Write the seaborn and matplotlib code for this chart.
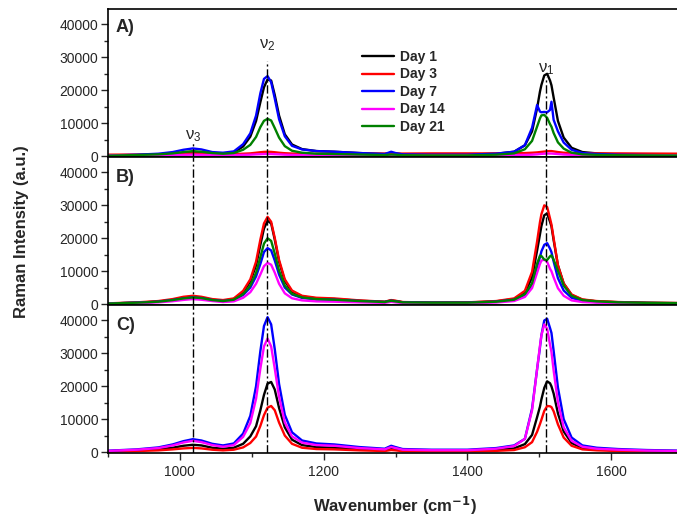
import pandas as pd
import matplotlib
matplotlib.use('Agg')
import matplotlib.pyplot as plt
from matplotlib.ticker import MultipleLocator
import seaborn as sns

# Datos (numero de onda e intensidades)
wn = [900, 940, 970, 990, 1005, 1018, 1030, 1045, 1060, 1075,
      1088, 1098, 1106, 1112, 1117, 1122, 1127, 1132, 1138, 1146,
      1156, 1170, 1190, 1215, 1250, 1285, 1294, 1300, 1310, 1350,
      1400, 1440, 1465, 1480, 1490, 1497, 1501, 1503, 1507, 1511,
      1515, 1517, 1520, 1526, 1534, 1545, 1560, 1580, 1610, 1650,
      1700]

days = ['Day 1', 'Day 3', 'Day 7', 'Day 14', 'Day 21']
colores = ['#000000', '#ff0000', '#0000ff', '#ff00ff', '#008000']

# Panel A
a_day1 = [100, 250, 400, 650, 900, 1000, 950, 800, 700, 1100,
          2900, 5900, 10650, 16400, 20900, 23300, 22950, 18550, 12300, 6600,
          3500, 2100, 1500, 1300, 900, 600, 900, 750, 500, 400,
          400, 700, 1300, 3250, 7500, 14550, 19600, 21600, 24500, 25000,
          22950, 21500, 17800, 10650, 5600, 2500, 1200, 800, 500, 350,
          250]
a_day3 = [400, 450, 500, 600, 700, 800, 700, 600, 500, 550,
          700, 800, 1000, 1150, 1250, 1300, 1250, 1150, 1000, 850,
          750, 700, 650, 650, 700, 750, 800, 750, 750, 800,
          800, 800, 850, 900, 1000, 1100, 1200, 1250, 1350, 1450,
          1500, 1500, 1400, 1200, 1000, 900, 850, 800, 800, 750,
          700]
a_day7 = [150, 400, 700, 1200, 1900, 2300, 2000, 1200, 1000, 1400,
          3600, 6900, 12300, 19100, 23450, 24300, 22450, 17500, 11200, 6000,
          3100, 2000, 1500, 1300, 900, 600, 1300, 900, 500, 400,
          400, 700, 1300, 3300, 8600, 15500, 13500, 13300, 13400, 13300,
          14000, 16500, 11000, 7500, 4100, 1900, 900, 600, 400, 300,
          200]
a_day14 = [200, 200, 250, 300, 350, 400, 350, 300, 250, 300,
           350, 400, 500, 550, 600, 620, 600, 550, 500, 400,
           350, 300, 300, 250, 250, 250, 300, 300, 250, 250,
           250, 250, 300, 350, 400, 500, 600, 650, 700, 750,
           750, 750, 700, 600, 450, 350, 300, 250, 250, 250,
           250]
a_day21 = [100, 300, 500, 800, 1200, 1500, 1300, 900, 700, 900,
           1900, 3400, 5800, 8800, 10700, 11300, 10800, 8500, 5600, 3000,
           1600, 1000, 700, 600, 450, 300, 450, 400, 250, 200,
           200, 400, 800, 2050, 4600, 8950, 11450, 12350, 12500, 11600,
           9700, 8900, 7000, 4150, 2250, 1000, 500, 350, 250, 200,
           150]

# Panel B
b_day1 = [150, 400, 750, 1250, 1800, 2100, 1900, 1300, 1000, 1500,
          3600, 6900, 11750, 18000, 22950, 25300, 24500, 19600, 12900, 7000,
          3750, 2300, 1700, 1500, 1000, 650, 1100, 900, 550, 400,
          450, 800, 1500, 3600, 8050, 16250, 21200, 23700, 27000, 27500,
          25000, 23600, 19450, 11750, 6250, 2750, 1300, 800, 550, 350,
          250]
b_day3 = [200, 500, 900, 1500, 2200, 2500, 2200, 1500, 1200, 1700,
          4000, 7500, 12900, 19600, 24500, 26500, 25000, 20100, 13400, 7500,
          4100, 2500, 1900, 1700, 1100, 700, 1200, 1000, 600, 450,
          500, 900, 1700, 4000, 9800, 19000, 24900, 27300, 30000, 29500,
          26000, 24150, 20000, 11750, 6250, 2900, 1400, 900, 600, 400,
          300]
b_day7 = [150, 400, 700, 1200, 1700, 2000, 1800, 1200, 900, 1200,
          2750, 5000, 8400, 12200, 15800, 17000, 16300, 13250, 8950, 5000,
          2900, 1850, 1400, 1300, 900, 600, 1000, 800, 500, 400,
          400, 700, 1300, 2750, 5750, 11200, 14300, 16000, 18000, 18500,
          16800, 15750, 12950, 7850, 4100, 1900, 900, 600, 400, 300,
          200]
b_day14 = [100, 300, 500, 850, 1250, 1500, 1300, 900, 600, 800,
           1900, 3600, 6150, 9000, 11500, 12500, 11950, 9550, 6150, 3250,
           1750, 1100, 800, 700, 500, 350, 650, 500, 300, 250,
           250, 450, 900, 2150, 4850, 9500, 12200, 13200, 13500, 12800,
           10700, 9950, 8100, 4800, 2500, 1100, 600, 400, 300, 200,
           150]
b_day21 = [150, 400, 700, 1200, 1700, 2000, 1800, 1200, 900, 1300,
           3000, 5600, 9500, 14300, 18350, 20000, 19200, 15350, 10100, 5600,
           3100, 2000, 1500, 1300, 900, 600, 1000, 800, 500, 400,
           400, 700, 1300, 3000, 6300, 12300, 14700, 14600, 13500, 13400,
           14500, 14800, 13500, 10100, 5600, 2500, 1200, 800, 500, 350,
           250]

# Panel C (sin Day 21)
c_day1 = [250, 500, 800, 1300, 1900, 2200, 2000, 1300, 1000, 1300,
          2500, 4750, 7850, 12700, 17350, 20800, 21300, 19000, 13400, 7500,
          3750, 2100, 1500, 1300, 900, 600, 1000, 800, 450, 350,
          400, 600, 1100, 2400, 5200, 10600, 13800, 16000, 19500, 21500,
          20900, 19950, 17800, 11750, 6250, 2750, 1200, 800, 500, 350,
          250]
c_day3 = [150, 300, 500, 800, 1100, 1250, 1100, 700, 500, 700,
          1400, 2750, 4700, 7950, 11200, 13500, 14000, 12700, 8950, 5000,
          2500, 1300, 900, 800, 500, 300, 600, 500, 250, 200,
          200, 350, 600, 1450, 3000, 6150, 8500, 9800, 12500, 14000,
          13900, 13650, 12400, 8400, 4400, 1900, 800, 500, 300, 200,
          150]
c_day7 = [400, 800, 1400, 2300, 3300, 3900, 3500, 2500, 2000, 2600,
          5600, 11000, 20000, 30700, 38300, 41000, 38800, 31300, 20700, 11300,
          6000, 3500, 2600, 2300, 1500, 1000, 1900, 1500, 900, 700,
          700, 1200, 2000, 4000, 13200, 25200, 31800, 35500, 40000, 40500,
          37700, 36200, 30800, 19600, 10000, 4400, 2000, 1300, 900, 600,
          400]
c_day14 = [350, 700, 1200, 2000, 2900, 3400, 3000, 2100, 1600, 2100,
           4600, 8800, 16200, 25400, 32100, 34500, 32100, 25400, 16800, 9000,
           4750, 2850, 2100, 1900, 1200, 800, 1500, 1200, 700, 550,
           550, 1000, 1800, 4000, 12650, 25200, 32300, 35500, 38800, 37500,
           32600, 30400, 24800, 15100, 7500, 3400, 1600, 1000, 700, 450,
           300]

paneles = {
    'A)': [a_day1, a_day3, a_day7, a_day14, a_day21],
    'B)': [b_day1, b_day3, b_day7, b_day14, b_day21],
    'C)': [c_day1, c_day3, c_day7, c_day14],
}

# Posiciones de las bandas v3, v2, v1
bandas = [1018, 1121, 1509]

sns.set_style('ticks')
plt.rcParams['font.family'] = ['Liberation Sans', 'DejaVu Sans']
plt.rcParams['mathtext.default'] = 'regular'

fig = plt.figure(figsize=(6.77, 5.23), dpi=100)
izq, ancho, alto = 108 / 677, 575 / 677, 148 / 523
bottoms = [1 - 157 / 523, 1 - 305 / 523, 1 - 453 / 523]

estilo_linea = (0, (6, 2, 1.5, 2))

for i, (nombre, series) in enumerate(paneles.items()):
    ax = fig.add_axes([izq, bottoms[i], ancho, alto])
    filas = []
    for d, vals in zip(days, series):
        for x, y in zip(wn, vals):
            filas.append({'wn': x, 'I': y, 'Dia': d})
    df = pd.DataFrame(filas)
    dias_panel = days[:len(series)]
    sns.lineplot(data=df, x='wn', y='I', hue='Dia', hue_order=dias_panel,
                 palette=colores[:len(series)], linewidth=1.7, ax=ax,
                 legend=(i == 0))

    ax.set_xlim(900, 1700)
    ax.set_ylim(-300, 44700)
    ax.yaxis.set_major_locator(MultipleLocator(10000))
    ax.yaxis.set_minor_locator(MultipleLocator(5000))
    ax.tick_params(axis='y', which='major', direction='out', length=5, width=1, labelsize=10, pad=2)
    ax.tick_params(axis='y', which='minor', direction='out', length=3, width=1)
    ax.set_xlabel('')
    ax.set_ylabel('')
    for s in ax.spines.values():
        s.set_linewidth(1.2)
        s.set_color('black')

    if i < 2:
        ax.tick_params(axis='x', which='both', bottom=False, labelbottom=False)
    else:
        ax.xaxis.set_major_locator(MultipleLocator(200))
        ax.xaxis.set_minor_locator(MultipleLocator(100))
        ax.tick_params(axis='x', which='major', direction='out', length=5, width=1, labelsize=10)
        ax.tick_params(axis='x', which='minor', direction='out', length=3, width=1)

    # lineas de trazos y puntos en las bandas
    if i == 0:
        tops = [4000, 29000, 24000]
        for b, t in zip(bandas, tops):
            ax.vlines(b, -300, t, colors='black', linewidth=1, linestyles=[estilo_linea], zorder=5)
        ax.text(1018, 6000, r'$\nu_3$', ha='center', va='center', fontsize=12)
        ax.text(1121, 33600, r'$\nu_2$', ha='center', va='center', fontsize=12)
        ax.text(1509, 26400, r'$\nu_1$', ha='center', va='center', fontsize=12)
        leg = ax.legend(loc='upper left', bbox_to_anchor=(362 / 677, 1 - 50 / 523),
                        bbox_transform=fig.transFigure, frameon=False,
                        handlelength=2.3, handletextpad=0.4, labelspacing=0.25,
                        borderpad=0, borderaxespad=0, title=None)
        for t in leg.get_texts():
            t.set_fontweight('bold')
            t.set_fontsize(10)
        for l in leg.get_lines():
            l.set_linewidth(1.7)
    else:
        for b in bandas:
            ax.axvline(b, color='black', linewidth=1, linestyle=estilo_linea, zorder=5)

    fig.text(116 / 677, 1 - [27, 178, 325][i] / 523, nombre, fontsize=13,
             fontweight='bold', ha='left', va='center')

fig.text(22 / 677, 1 - 232 / 523, 'Raman Intensity (a.u.)', rotation=90,
         fontsize=12, fontweight='bold', ha='center', va='center')
fig.text(395 / 677, 1 - 506 / 523, r'Wavenumber (cm$^{\mathbf{-1}}$)',
         fontsize=12, fontweight='bold', ha='center', va='center')

fig.savefig('out.png', dpi=100)
